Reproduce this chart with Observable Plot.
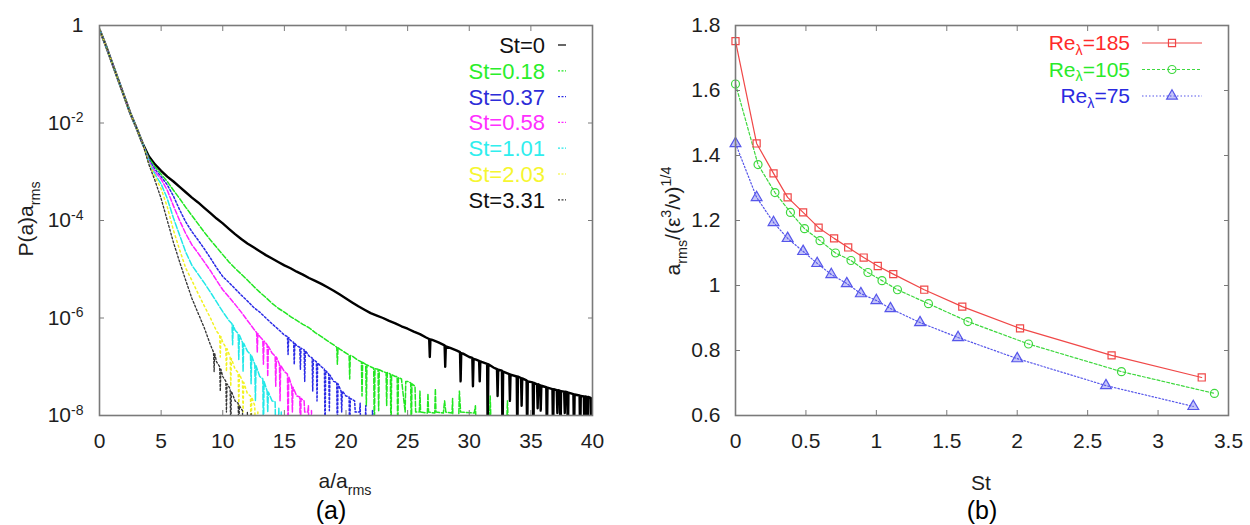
<!DOCTYPE html>
<html><head><meta charset="utf-8">
<script src="https://cdn.jsdelivr.net/npm/d3@7"></script>
<script src="https://cdn.jsdelivr.net/npm/@observablehq/plot@0.6"></script>
<style>
body{margin:0;background:#fff;}
#wrap{position:relative;width:1250px;height:525px;overflow:hidden;}
#wrap svg{position:absolute;top:0;}
</style></head><body><div id="wrap"></div>
<script>
const FONT = "'Liberation Sans', Arial, Helvetica, sans-serif";

// ---------- Panel (a): PDF of a/a_rms (log10 P values) ----------
const stNames  = ["St=0","St=0.18","St=0.37","St=0.58","St=1.01","St=2.03","St=3.31"];
const stColors = ["#000000","#22e622","#2a2ae6","#ff22ff","#22e8e8","#f2f222","#333333"];
const stText   = ["#111111","#2aee2a","#2c2cd8","#ff30ff","#30eeee","#f6f630","#111111"];
const stDash   = ["none","5,2","2,2","5,2","6,2","2,3","2,2"];
const stWidth  = [2.4,1.5,1.5,1.5,1.5,1.5,1.3];
const headA    = [0,0.5,1,1.5,2,2.5,3,3.5];
const headLogP = [-0.08,-0.4,-0.75,-1.1,-1.45,-1.8,-2.1,-2.42];
const tailSt0 = [[4,-2.68],[4.5,-2.85],[5,-2.98],[5.5,-3.1],[6,-3.2],[6.5,-3.31],[7,-3.42],[7.5,-3.53],[8,-3.63],[8.5,-3.74],[9,-3.85],[9.5,-3.96],[10,-4.06],[10.5,-4.17],[11,-4.28],[11.5,-4.38],[12,-4.47],[12.5,-4.55],[13,-4.63],[13.5,-4.71],[14,-4.78],[14.5,-4.85],[15,-4.92],[15.5,-4.98],[16,-5.05],[16.5,-5.11],[17,-5.18],[17.5,-5.24],[18,-5.3],[18.5,-5.37],[19,-5.44],[19.5,-5.52],[20,-5.6],[20.5,-5.68],[21,-5.76],[21.5,-5.83],[22,-5.9],[22.5,-5.95],[23,-6.0],[23.5,-6.06],[24,-6.11],[24.5,-6.17],[25,-6.22],[25.5,-6.28],[26,-6.33],[26.5,-6.4],[26.75,-6.43],[26.8,-6.8],[26.85,-6.44],[27,-6.45],[27.5,-6.5],[28,-6.56],[28.05,-7.0],[28.1,-6.58],[28.5,-6.62],[29,-6.67],[29.25,-6.7],[29.3,-7.3],[29.35,-6.72],[29.5,-6.73],[30,-6.8],[30.25,-6.82],[30.3,-7.4],[30.35,-6.84],[30.5,-6.85],[30.8,-6.88],[30.85,-7.3],[30.9,-6.89],[31,-6.9],[31.45,-6.94],[31.5,-8.5],[31.55,-6.95],[32,-7.02],[32.25,-7.05],[32.3,-7.6],[32.35,-7.06],[32.65,-7.08],[32.7,-8.5],[32.75,-7.1],[33.25,-7.15],[33.3,-7.7],[33.35,-7.16],[33.85,-7.2],[33.9,-8.5],[33.95,-7.2],[34.2,-7.23],[34.25,-7.8],[34.3,-7.24],[34.65,-7.28],[34.7,-8.5],[34.75,-7.3],[35.15,-7.32],[35.2,-8.5],[35.25,-7.33],[35.5,-7.36],[35.55,-7.85],[35.6,-7.36],[35.75,-7.38],[35.8,-7.9],[35.85,-7.39],[36.25,-7.42],[36.3,-8.5],[36.35,-7.43],[36.75,-7.46],[36.8,-8.5],[36.85,-7.46],[37.1,-7.48],[37.15,-7.95],[37.2,-7.48],[37.35,-7.49],[37.4,-8.5],[37.45,-7.5],[37.7,-7.51],[37.75,-7.95],[37.8,-7.51],[37.95,-7.52],[38,-8.5],[38.05,-7.53],[38.45,-7.56],[38.5,-8.5],[38.55,-7.57],[38.95,-7.59],[39,-8.5],[39.05,-7.6],[39.3,-7.61],[39.35,-8.5],[39.4,-7.61],[39.55,-7.62],[39.6,-8.5],[39.65,-7.62],[39.85,-7.64],[39.9,-8.5],[40,-7.65]];
const tailSt018 = [[4,-2.72],[4.5,-2.9],[5,-3.05],[5.5,-3.2],[6,-3.38],[6.5,-3.55],[7,-3.73],[7.5,-3.9],[8,-4.07],[8.5,-4.24],[9,-4.4],[9.5,-4.55],[10,-4.7],[10.5,-4.85],[11,-4.98],[11.5,-5.1],[12,-5.22],[12.5,-5.35],[13,-5.47],[13.5,-5.58],[14,-5.7],[14.5,-5.8],[15,-5.88],[15.5,-5.97],[16,-6.05],[16.5,-6.13],[17,-6.2],[17.5,-6.3],[18,-6.38],[18.5,-6.47],[19,-6.55],[19.25,-6.6],[19.3,-6.95],[19.35,-6.61],[19.5,-6.64],[20,-6.72],[20.25,-6.76],[20.3,-7.25],[20.35,-6.77],[20.5,-6.78],[21,-6.87],[21.25,-6.9],[21.3,-7.6],[21.35,-6.91],[21.6,-6.95],[21.65,-7.8],[21.7,-6.96],[22,-7.0],[22.25,-7.03],[22.3,-8.5],[22.35,-7.04],[22.6,-7.05],[22.65,-7.9],[22.7,-7.06],[23,-7.1],[23.25,-7.12],[23.3,-7.8],[23.35,-7.12],[23.6,-7.15],[23.65,-8.5],[23.7,-7.16],[24,-7.2],[24.15,-7.2],[24.2,-8.5],[24.25,-7.22],[24.5,-7.25],[24.8,-7.93],[24.85,-7.3],[25,-7.3],[25.25,-7.33],[25.3,-8.5],[25.35,-7.35],[25.6,-7.4],[25.65,-7.93],[25.95,-7.93],[26,-7.5],[26.05,-7.93],[26.6,-7.95],[26.65,-7.55],[26.7,-7.93],[27.2,-7.95],[27.25,-7.45],[27.3,-7.93],[27.9,-7.95],[28,-7.7],[28.1,-7.93],[28.6,-7.95],[28.65,-7.65],[28.7,-8.5],[29.1,-8.5],[29.2,-7.5],[29.3,-7.93],[30.4,-7.95],[30.5,-7.8],[30.6,-8.5],[31.6,-8.5],[31.7,-7.6],[31.8,-8.5],[33.0,-8.5],[33.1,-7.7],[33.2,-8.5]];
const tailSt037 = [[4,-2.75],[4.5,-2.95],[5,-3.1],[5.5,-3.27],[6,-3.5],[6.5,-3.78],[7,-4.03],[7.5,-4.23],[8,-4.4],[8.5,-4.58],[9,-4.77],[9.5,-4.97],[10,-5.15],[10.5,-5.27],[11,-5.4],[11.5,-5.53],[12,-5.65],[12.5,-5.78],[13,-5.88],[13.5,-6.0],[14,-6.12],[14.5,-6.23],[15,-6.35],[15.25,-6.38],[15.3,-6.75],[15.35,-6.4],[15.5,-6.46],[15.75,-6.5],[15.8,-6.95],[15.85,-6.52],[16,-6.57],[16.25,-6.6],[16.3,-7.05],[16.35,-6.62],[16.6,-6.65],[16.65,-7.3],[16.7,-6.67],[17,-6.78],[17.25,-6.82],[17.3,-7.5],[17.35,-6.85],[17.6,-6.9],[17.65,-7.7],[17.7,-6.92],[18,-7.0],[18.25,-7.05],[18.3,-8.5],[18.35,-7.08],[18.6,-7.15],[18.65,-7.9],[18.7,-7.17],[19,-7.3],[19.25,-7.32],[19.3,-8.5],[19.35,-7.35],[19.6,-7.5],[19.65,-7.93],[19.7,-7.5],[20,-7.6],[20.25,-7.62],[20.3,-8.5],[20.35,-7.65],[20.7,-7.7],[20.75,-7.93],[21.1,-7.93],[21.15,-7.75],[21.2,-8.5],[21.55,-8.5],[21.6,-7.8],[21.65,-8.5],[22.1,-8.5],[22.15,-7.9],[22.2,-8.5]];
const tailSt058 = [[4,-2.78],[4.5,-3.0],[5,-3.15],[5.5,-3.38],[6,-3.7],[6.5,-4.0],[7,-4.27],[7.5,-4.5],[8,-4.67],[8.5,-4.85],[9,-5.03],[9.5,-5.23],[10,-5.42],[10.5,-5.57],[11,-5.72],[11.5,-5.88],[12,-6.05],[12.5,-6.22],[12.75,-6.3],[12.8,-6.7],[12.85,-6.32],[13,-6.38],[13.25,-6.45],[13.3,-6.95],[13.35,-6.47],[13.6,-6.55],[13.65,-7.2],[13.7,-6.58],[14,-6.72],[14.25,-6.78],[14.3,-7.4],[14.35,-6.8],[14.6,-6.95],[14.65,-7.7],[14.7,-6.97],[15,-7.1],[15.25,-7.15],[15.3,-8.5],[15.35,-7.2],[15.6,-7.4],[15.65,-7.93],[15.7,-7.42],[16,-7.6],[16.25,-7.62],[16.3,-8.5],[16.35,-7.65],[16.6,-7.7],[16.65,-7.93],[16.9,-7.93],[16.95,-7.8],[17.0,-8.5],[17.15,-8.5],[17.2,-7.9],[17.25,-8.5]];
const tailSt101 = [[4,-2.8],[4.5,-3.05],[5,-3.25],[5.5,-3.55],[6,-3.95],[6.5,-4.3],[7,-4.65],[7.5,-4.92],[8,-5.1],[8.5,-5.28],[9,-5.47],[9.5,-5.67],[10,-5.87],[10.5,-6.05],[10.75,-6.12],[10.8,-6.55],[10.85,-6.15],[11,-6.25],[11.25,-6.32],[11.3,-6.85],[11.35,-6.35],[11.6,-6.5],[11.65,-7.1],[11.7,-6.52],[12,-6.68],[12.25,-6.75],[12.3,-7.35],[12.35,-6.78],[12.6,-6.95],[12.65,-7.7],[12.7,-6.98],[13,-7.2],[13.25,-7.25],[13.3,-8.5],[13.35,-7.3],[13.6,-7.5],[13.65,-7.93],[13.7,-7.52],[14,-7.7],[14.25,-7.72],[14.3,-8.5],[14.5,-8.5],[14.55,-7.85],[14.6,-8.5],[14.7,-8.5],[14.75,-7.93],[14.8,-8.5]];
const tailSt203 = [[4,-2.82],[4.5,-3.1],[5,-3.35],[5.5,-3.72],[6,-4.2],[6.5,-4.6],[7,-4.98],[7.5,-5.23],[8,-5.5],[8.5,-5.75],[9,-6.0],[9.5,-6.27],[9.75,-6.35],[9.8,-6.8],[9.85,-6.38],[10,-6.5],[10.25,-6.6],[10.3,-7.1],[10.35,-6.63],[10.6,-6.8],[10.65,-7.4],[10.7,-6.83],[11,-7.05],[11.25,-7.12],[11.3,-7.85],[11.35,-7.15],[11.6,-7.3],[11.65,-7.93],[11.7,-7.32],[12,-7.55],[12.25,-7.6],[12.3,-8.5],[12.35,-7.62],[12.6,-7.8],[12.65,-8.5],[12.8,-8.5],[12.85,-7.93],[12.9,-8.5]];
const tailSt331 = [[4,-2.85],[4.5,-3.18],[5,-3.55],[5.5,-4.0],[6,-4.45],[6.5,-4.85],[7,-5.23],[7.5,-5.6],[8,-5.9],[8.5,-6.2],[9,-6.55],[9.25,-6.7],[9.3,-7.1],[9.35,-6.73],[9.5,-6.9],[9.75,-7.0],[9.8,-7.5],[9.85,-7.05],[10,-7.2],[10.25,-7.3],[10.3,-7.93],[10.35,-7.35],[10.6,-7.45],[10.65,-8.5],[10.7,-7.5],[11,-7.7],[11.25,-7.75],[11.3,-8.5],[11.35,-7.8],[11.6,-7.9],[11.65,-8.5],[11.95,-8.5],[12,-7.93],[12.05,-8.5],[12.25,-8.5],[12.3,-7.95],[12.35,-8.5]];
const tails = [tailSt0,tailSt018,tailSt037,tailSt058,tailSt101,tailSt203,tailSt331];
const xTicksA = [0,5,10,15,20,25,30,35,40];
const yTicksA = [1e-8,1e-6,1e-4,1e-2,1];

// ---------- Panel (b): a_rms vs St ----------
const reNames  = ["Re185","Re105","Re75"];
const reLabels = ["185","105","75"];
const reColors = ["#f04848","#3ed83e","#5656ea"];
const reText   = ["#ff2a2a","#2aea2a","#2a2ae0"];
const reDash   = ["none","3,2","1.5,2"];
const reSymbol = ["square","circle","triangle"];
const st185 = [0,0.15,0.27,0.37,0.48,0.59,0.70,0.80,0.91,1.01,1.12,1.34,1.61,2.02,2.67,3.31];
const a185  = [1.752,1.437,1.345,1.271,1.225,1.178,1.145,1.117,1.086,1.06,1.035,0.987,0.935,0.868,0.785,0.717];
const st105 = [0,0.16,0.28,0.39,0.49,0.60,0.71,0.82,0.94,1.04,1.15,1.37,1.65,2.08,2.74,3.40];
const a105  = [1.62,1.372,1.286,1.225,1.175,1.138,1.10,1.077,1.04,1.015,0.987,0.944,0.889,0.82,0.735,0.668];
const st75  = [0,0.15,0.27,0.37,0.48,0.58,0.68,0.79,0.89,1.0,1.10,1.31,1.58,2.0,2.63,3.25];
const a75   = [1.437,1.271,1.194,1.145,1.105,1.068,1.034,1.006,0.975,0.954,0.929,0.886,0.840,0.775,0.692,0.628];
const reSt = [st185,st105,st75];
const reA  = [a185,a105,a75];
const xTicksB = [0,0.5,1,1.5,2,2.5,3,3.5];
const yTicksB = [0.6,0.8,1,1.2,1.4,1.6,1.8];

// ---------- build rows ----------
const rowsA = stNames.map((name,i)=>{
  const pts = headA.map((a,j)=>({a, p: Math.pow(10, headLogP[j]), name}));
  tails[i].forEach(([a,l])=>pts.push({a, p: Math.pow(10,l), name}));
  return pts;
});
const rowsB = reNames.map((name,i)=>reSt[i].map((s,j)=>({st:s, v:reA[i][j], name})));

const wrap = document.getElementById("wrap");
const TICK = "#7a7a7a", LAB = "#1e1e1e";

function axes(xt, yt, xfmt, yfmt, padY){
  return [
    Plot.axisX({anchor:"bottom", ticks:xt, tickSize:0, tickPadding:18, tickFormat:xfmt, label:null, fontSize:21, fill:LAB}),
    Plot.axisY({anchor:"left", ticks:yt, tickSize:0, tickPadding:padY, tickFormat:yfmt, label:null, fontSize:21, fill:LAB}),
    Plot.axisX({anchor:"bottom", ticks:xt, tickSize:-5, tickFormat:()=>"", label:null, stroke:TICK}),
    Plot.axisX({anchor:"top", ticks:xt, tickSize:-5, tickFormat:()=>"", label:null, stroke:TICK}),
    Plot.axisY({anchor:"left", ticks:yt, tickSize:-5, tickFormat:()=>"", label:null, stroke:TICK}),
    Plot.axisY({anchor:"right", ticks:yt, tickSize:-5, tickFormat:()=>"", label:null, stroke:TICK}),
    Plot.frame({stroke:TICK, strokeWidth:1.6})
  ];
}

const plotA = Plot.plot({
  width:625, height:525, marginLeft:99, marginRight:33, marginTop:25, marginBottom:110,
  style:{fontFamily:FONT, fontSize:"21px", background:"transparent"},
  x:{domain:[0,40]},
  y:{type:"log", domain:[1e-8,1]},
  marks:[
    ...rowsA.map((rows,i)=>Plot.line(rows,{x:"a", y:"p", stroke:stColors[i], strokeWidth:stWidth[i], strokeDasharray:stDash[i]==="none"?null:stDash[i], clip:true})),
    ...axes(xTicksA, yTicksA, d=>String(d), d=>d===1?"1":"10^"+Math.round(Math.log10(d)), 16)
  ]
});
plotA.style.left = "0px";
wrap.appendChild(plotA);

const plotB = Plot.plot({
  width:625, height:525, marginLeft:110, marginRight:22, marginTop:25, marginBottom:110,
  style:{fontFamily:FONT, fontSize:"21px", background:"transparent"},
  x:{domain:[0,3.5]},
  y:{domain:[0.6,1.8]},
  marks:[
    ...rowsB.map((rows,i)=>Plot.line(rows,{x:"st", y:"v", stroke:reColors[i], strokeWidth:1.2, strokeDasharray:reDash[i]==="none"?null:reDash[i], clip:true})),
    ...rowsB.map((rows,i)=>Plot.dot(rows,{x:"st", y:"v", stroke:reColors[i], symbol:reSymbol[i], r:4, strokeWidth:1.2, fill:i===2?reColors[i]:"none", fillOpacity:i===2?0.35:1})),
    ...axes(xTicksB, yTicksB, d=>String(d), d=>String(d), 15)
  ]
});
plotB.style.left = "625px";
wrap.appendChild(plotB);

// superscript exponents on log tick labels
d3.select(plotA).selectAll("text").each(function(){
  const t = this.textContent;
  if (/^10\^/.test(t)) {
    const e = t.slice(3);
    const s = d3.select(this);
    s.text(null);
    s.append("tspan").text("10");
    s.append("tspan").attr("dy","-0.55em").attr("font-size","14px").text(e);
  }
});

function rich(svg, x, y, parts, {size=21, anchor="middle", rotate=0, fill=LAB, subShift=0.32}={}){
  const t = d3.select(svg).append("text").attr("font-family",FONT).attr("font-size",size)
    .attr("fill",fill).attr("text-anchor",anchor)
    .attr("transform",`translate(${x},${y}) rotate(${rotate})`);
  let cur = 0;
  for (const p of parts){
    const shift = p.sub ? size*subShift : p.sup ? -size*0.42 : 0;
    const fs = (p.sub||p.sup) ? size*0.68 : size;
    t.append("tspan").attr("dy", shift-cur).attr("font-size", fs).text(p.t);
    cur = shift;
  }
  return t;
}

// axis titles and panel tags
rich(plotA, 345, 488, [{t:"a/a"},{t:"rms",sub:true}]);
rich(plotA, 331, 519, [{t:"(a)"}], {size:25, fill:"#000"});
rich(plotA, 33, 219, [{t:"P(a)a"},{t:"rms",sub:true}], {rotate:-90});
rich(plotB, 356, 490, [{t:"St"}]);
rich(plotB, 357, 519, [{t:"(b)"}], {size:25, fill:"#000"});
rich(plotB, 55, 221, [{t:"a"},{t:"rms",sub:true},{t:"/(ε"},{t:"3",sup:true},{t:"/ν)"},{t:"1/4",sup:true}], {rotate:-90});

// legend (a)
const legA = d3.select(plotA).append("g");
stNames.forEach((n,i)=>{
  const cy = 45 + i*25.8;
  legA.append("text").attr("x",545).attr("y",cy+8).attr("text-anchor","end")
    .attr("font-family",FONT).attr("font-size",22).attr("fill",stText[i]).text(n);
  legA.append("line").attr("x1",558).attr("x2",566).attr("y1",cy).attr("y2",cy)
    .attr("stroke",stColors[i]).attr("stroke-width",1.2)
    .attr("stroke-dasharray", stDash[i]==="none"?null:"2,1.5");
});

// legend (b)
const legB = d3.select(plotB).append("g");
reNames.forEach((n,i)=>{
  const cy = 43 + i*26.5;
  rich(plotB, 505, cy+7, [{t:"Re"},{t:"λ",sub:true},{t:"="+reLabels[i]}], {size:21, anchor:"end", fill:reText[i], subShift:0.22});
  legB.append("line").attr("x1",517).attr("x2",577).attr("y1",cy).attr("y2",cy)
    .attr("stroke",reColors[i]).attr("stroke-width",1.2)
    .attr("stroke-dasharray", reDash[i]==="none"?null:reDash[i]);
  const sym = d3.symbol().type([d3.symbolSquare,d3.symbolCircle,d3.symbolTriangle][i]).size(50);
  legB.append("path").attr("d",sym()).attr("transform",`translate(547,${cy})`)
    .attr("stroke",reColors[i]).attr("stroke-width",1.2)
    .attr("fill",i===2?reColors[i]:"none").attr("fill-opacity",i===2?0.35:1);
});
</script></body></html>
